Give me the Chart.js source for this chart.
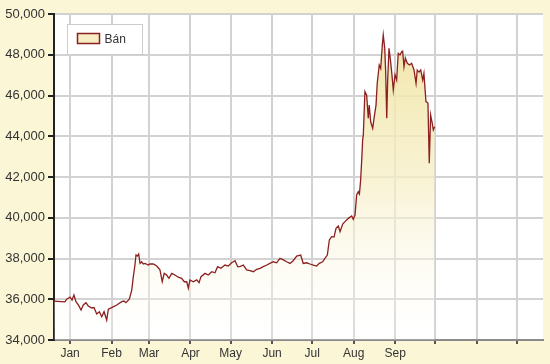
<!DOCTYPE html>
<html>
<head>
<meta charset="utf-8">
<title>Bán</title>
<script src="https://cdn.jsdelivr.net/npm/chart.js@4/dist/chart.umd.min.js"></script>
<style>
  body { margin: 0; background: #fbf7d6; }
  canvas { display: block; }
</style>
</head>
<body>
<canvas id="myChart" width="550" height="364"></canvas>
<script>
// Dias contados desde el inicio de la serie (aprox. 20 de diciembre)
const diasSerie = [
  0, 8.2, 9.5, 12, 13.5, 14.9, 16.4, 18.2, 20.2, 21.9,
  23.9, 25.6, 28.2, 29.9, 31.9, 33.9, 35.7, 37.4, 39.4, 40.6,
  43.1, 46.9, 50.6, 52.3, 53.8, 56.3, 58.1, 59.3, 60.5, 61.3,
  62.3, 63.3, 64.3, 65.5, 66.7, 68, 70.5, 71.7, 74.2, 76.8,
  79.2, 80.9, 82.4, 84.2, 85.9, 88, 90.4, 92.9, 95.4, 97.4,
  99.2, 100.4, 101.6, 104.1, 106.7, 108.4, 109.9, 112.9, 115.3, 117.9,
  120.3, 122.3, 124.8, 127.8, 130.3, 132.8, 135.3, 137.3, 139, 141.5,
  144, 146.5, 149, 151.5, 154, 156.4, 159, 161.4, 163.9, 166.4,
  168.9, 171.4, 173.9, 176.4, 178.8, 181.4, 184.4, 186.3, 188.9, 191.3,
  193.8, 196.3, 198.3, 200.8, 202.5, 204.3, 205.8, 207.5, 209.3, 210.8,
  212.5, 213.8, 215.8, 217.5, 220, 222.5, 223.7, 225, 226.2, 227.4,
  228.3, 229.2, 230, 230.7, 231.2, 232.4, 233.7, 234.9, 235.6, 236.7,
  238.2, 239.2, 240.7, 241.6, 243.1, 244.2, 245.4, 246.1, 247.2, 247.9,
  248.7, 249.4, 250.4, 251.6, 252.6, 253.6, 254.9, 256.1, 257.3, 258.6,
  259.9, 260.6, 261.6, 262.6, 264.1, 265.7, 267.3, 269.1, 270.6, 271.5,
  272.8, 274.1, 275.6, 276.5, 278, 279.5, 280.5, 281.5, 282.7, 283.5,
  284.5
];

// Precio de venta ("Bán") para cada dia
const valoresBan = [
  35910, 35870, 36000, 36100, 35960, 36210, 35880, 35720, 35470, 35720,
  35830, 35670, 35570, 35590, 35280, 35390, 35140, 35390, 34980, 35510,
  35590, 35720, 35880, 35910, 35830, 36000, 36450, 37110, 37680, 38170,
  38120, 38220, 37760, 37840, 37730, 37760, 37680, 37730, 37730, 37630,
  37440, 36860, 37270, 37190, 37030, 37270, 37190, 37080, 37030, 36860,
  36860, 36540, 36950, 36860, 36950, 36810, 37110, 37270, 37190, 37350,
  37300, 37600, 37520, 37680, 37630, 37790, 37890, 37600, 37600, 37680,
  37440, 37400, 37350, 37470, 37520, 37600, 37680, 37760, 37840, 37790,
  38010, 37930, 37840, 37760, 37890, 38120, 38170, 37760, 37790, 37730,
  37680, 37630, 37760, 37840, 38010, 38170, 38910, 39070, 39050, 39480,
  39600, 39320, 39690, 39810, 39970, 40090, 39920, 40130, 41120, 41280,
  41170, 41850, 42830, 43820, 44060, 46190, 46020, 44880, 45530, 44710,
  44390, 44880, 45530, 46600, 47500, 47330, 48480, 48970, 48320, 47170,
  44880, 46760, 48320, 47660, 47010, 46270, 47010, 46760, 48070, 47990,
  48150, 48180, 47410, 47840, 47580, 47500, 47580, 47250, 46600, 47250,
  47150, 47250, 46760, 47090, 45700, 45630, 42670, 45040, 44640, 44310,
  44470
];

// Dia de inicio de cada mes y su etiqueta (los ultimos tres sin texto)
const diasMes = [12, 43, 71, 102, 132, 163, 193, 224, 255, 285, 316, 346];
const etiquetasMes = ["Jan", "Feb", "Mar", "Apr", "May", "Jun", "Jul", "Aug", "Sep", "", "", ""];

const nombreSerie = "Bán";
const colorLinea = "#8c1f1f";
const fuente = "'Liberation Sans', Arial, sans-serif";

// Fondo crema del lienzo y area blanca del grafico
const fondoPlugin = {
  id: "fondo",
  beforeDraw(chart) {
    const { ctx, chartArea } = chart;
    ctx.save();
    ctx.fillStyle = "#fbf7d6";
    ctx.fillRect(0, 0, chart.width, chart.height);
    ctx.fillStyle = "#ffffff";
    ctx.fillRect(chartArea.left, chartArea.top, chartArea.right - chartArea.left, chartArea.bottom - chartArea.top);
    ctx.restore();
  }
};

// Leyenda dibujada dentro del area del grafico (arriba a la izquierda)
const leyendaPlugin = {
  id: "leyendaInterna",
  afterDraw(chart) {
    const { ctx, chartArea } = chart;
    const ds = chart.data.datasets[0];
    const x = chartArea.left + 13.5;
    const y = chartArea.top + 10.5;
    ctx.save();
    ctx.fillStyle = "#ffffff";
    ctx.strokeStyle = "#cccccc";
    ctx.lineWidth = 1;
    ctx.fillRect(x, y, 75, 30);
    ctx.strokeRect(x, y, 75, 30);
    ctx.fillStyle = "#f6edc4";
    ctx.strokeStyle = ds.borderColor;
    ctx.lineWidth = 1.5;
    ctx.fillRect(x + 10, y + 9, 22, 10);
    ctx.strokeRect(x + 10, y + 9, 22, 10);
    ctx.fillStyle = "#333333";
    ctx.font = "12px " + fuente;
    ctx.textBaseline = "middle";
    ctx.fillText(ds.label, x + 37, y + 15);
    ctx.restore();
  }
};

// Relleno degradado desde la linea hacia abajo
function rellenoDegradado(context) {
  const chart = context.chart;
  const area = chart.chartArea;
  if (!area) {
    return null;
  }
  const grad = chart.ctx.createLinearGradient(0, area.top, 0, area.bottom);
  grad.addColorStop(0, "rgba(240, 226, 158, 0.95)");
  grad.addColorStop(0.5, "rgba(246, 238, 196, 0.75)");
  grad.addColorStop(1, "rgba(255, 255, 255, 0.2)");
  return grad;
}

const puntos = diasSerie.map((d, i) => ({ x: d, y: valoresBan[i] }));

const config = {
  type: "line",
  data: {
    datasets: [
      {
        label: nombreSerie,
        data: puntos,
        borderColor: colorLinea,
        borderWidth: 1.3,
        pointRadius: 0,
        tension: 0,
        fill: "start",
        backgroundColor: rellenoDegradado,
      },
    ],
  },
  options: {
    responsive: false,
    animation: false,
    layout: { padding: { top: 14, right: 7, left: 0, bottom: 0 } },
    plugins: {
      legend: { display: false },
      tooltip: { enabled: false },
    },
    scales: {
      x: {
        type: "linear",
        min: 0,
        max: 365.5,
        afterFit(scale) { scale.height = 24; },
        afterBuildTicks(scale) {
          scale.ticks = diasMes.map((d) => ({ value: d }));
        },
        ticks: {
          autoSkip: false,
          maxRotation: 0,
          padding: 2,
          color: "#333333",
          font: { family: fuente, size: 12 },
          callback: (value, index) => etiquetasMes[index],
        },
        grid: {
          color: "#d2d2d2",
          lineWidth: 2,
          tickColor: "#555555",
          tickLength: 4,
        },
        border: { color: "#8a8a8a", width: 2 },
      },
      y: {
        min: 34000,
        max: 50000,
        afterFit(scale) { scale.width = 54; },
        ticks: {
          stepSize: 2000,
          padding: 3,
          color: "#333333",
          font: { family: fuente, size: 13 },
          callback: (value) => value.toLocaleString("en-US"),
        },
        grid: {
          color: "#d2d2d2",
          lineWidth: 2,
          tickColor: "#222222",
          tickLength: 6,
        },
        border: { color: "#222222", width: 2 },
      },
    },
  },
  plugins: [fondoPlugin, leyendaPlugin],
};

const myChart = document.getElementById("myChart");
new Chart(myChart, config);
</script>
</body>
</html>
